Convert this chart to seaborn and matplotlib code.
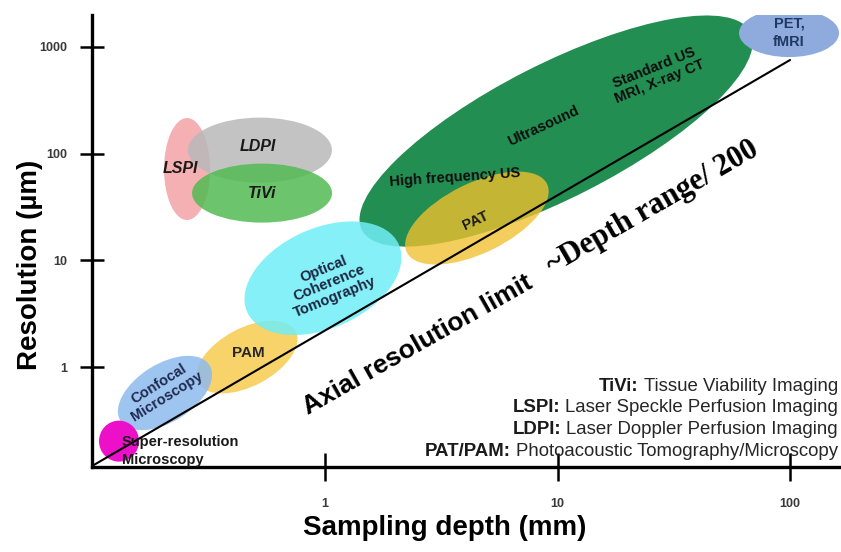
import numpy as np
import pandas as pd
import matplotlib
matplotlib.use("Agg")
import matplotlib.pyplot as plt
import seaborn as sns
from matplotlib.patches import Ellipse
from matplotlib.transforms import ScaledTranslation

# ---------------- data ----------------
modality = ["LSPI", "LDPI", "TiVi", "Ultrasound / MRI / CT", "PAT", "PAM",
            "Confocal", "OCT", "Super-resolution", "PET/fMRI"]
depth_mm = [0.255, 0.525, 0.536, 9.86, 4.5, 0.462, 0.205, 0.98, 0.130, 99.0]
resolution_um = [71.8, 108.0, 42.7, 163.0, 24.9, 1.24, 0.571, 6.8, 0.202, 1350.0]

# resolution-limit line (two end points)
limit_depth = [0.0995, 100.0]
limit_res = [0.118, 755.0]

# text labels
label_text = ["LSPI", "LDPI", "TiVi", "High frequency US", "Ultrasound",
              "Standard US\nMRI, X-ray CT", "PAT", "PAM", "Confocal\nMicroscopy",
              "Optical\nCoherence\nTomography", "Super-resolution\nMicroscopy", "PET,\nfMRI"]
label_depth = [0.240, 0.515, 0.536, 3.62, 8.66, 26.8, 4.46, 0.467, 0.201, 1.04, 0.134, 99.0]
label_res = [73.3, 118.0, 42.7, 60.4, 181.0, 545.0, 23.4, 1.35, 0.609, 6.13, 0.163, 1350.0]

x_ticks = [1, 10, 100]
y_ticks = [1, 10, 100, 1000]

legend_abbr = ["TiVi:", "LSPI:", "LDPI:", "PAT/PAM:"]
legend_desc = ["Tissue Viability Imaging", "Laser Speckle Perfusion Imaging",
               "Laser Doppler Perfusion Imaging", "Photoacoustic Tomography/Microscopy"]

# ---------------- styles ----------------
ell_w_px = [46, 144, 140, 436, 156, 110, 105, 166, 40, 100]
ell_h_px = [102, 65, 59, 134, 70, 58, 58, 100, 41, 48]
ell_ang = [0, 0, 0, 27, 26, 28, 32, 24, 0, 0]
ell_color = ["#F4A3A6", "#B9B9B9", "#52BA52", "#1C8A4C", "#F2C12E", "#F7CC50",
             "#8DBAEE", "#70EEF6", "#EC10C8", "#8FAADC"]
ell_alpha = [0.85, 0.85, 0.85, 0.97, 0.78, 0.85, 0.85, 0.85, 1.0, 1.0]

lab_rot = [0, 0, 0, 4, 25, 22, 25, 0, 32, 22, 0, 0]
lab_size = [11.5, 11.5, 11.5, 10.5, 10.5, 10.5, 10.5, 11, 10.5, 10.5, 10.5, 10.5]
lab_style = ["italic", "italic", "italic"] + ["normal"] * 9
lab_ha = ["center"] * 10 + ["left", "center"]
lab_ls = [1.1] * 10 + [1.35, 1.4]
lab_color = ["#1a1a1a", "#1a1a1a", "#1a1a1a", "#0d0d0d", "#0d0d0d", "#0d0d0d",
             "#1a1a1a", "#262626", "#1f2a50", "#1c2541", "#1a1a1a", "#1f3864"]

sns.set_theme(style="white")
plt.rcParams["font.family"] = ["Liberation Sans", "DejaVu Sans"]

fig = plt.figure(figsize=(8.41, 5.52), dpi=100)
ax = fig.add_axes([92 / 841, 85 / 552, 748 / 841, 452 / 552])
ax.set_xscale("log")
ax.set_yscale("log")
ax.set_xlim(0.0995, 164)
ax.set_ylim(0.1156, 1995)

# ellipses
for i in range(len(modality)):
    e = Ellipse((0, 0), ell_w_px[i] / 100, ell_h_px[i] / 100, angle=ell_ang[i],
                transform=fig.dpi_scale_trans + ScaledTranslation(depth_mm[i], resolution_um[i], ax.transData),
                facecolor=ell_color[i], alpha=ell_alpha[i], edgecolor="none", zorder=2 + i * 0.01)
    ax.add_patch(e)

# resolution limit line
line_df = pd.DataFrame({"depth": limit_depth, "res": limit_res})
sns.lineplot(data=line_df, x="depth", y="res", ax=ax, color="black", lw=1.5, zorder=3)

# labels
for i, t in enumerate(label_text):
    ax.text(label_depth[i], label_res[i], t, rotation=lab_rot[i], fontsize=lab_size[i],
            fontweight="bold", fontstyle=lab_style[i], ha=lab_ha[i], va="center",
            multialignment="left" if lab_ha[i] == "left" else "center",
            color=lab_color[i], rotation_mode="anchor", linespacing=lab_ls[i], zorder=5)

# big annotation
ax.text(0.845, 0.355, "Axial resolution limit", rotation=29.5, rotation_mode="anchor",
        ha="left", va="baseline", fontsize=19, fontweight="bold", color="black", zorder=5)
ax.text(9.47, 7.44, "~Depth range/ 200", rotation=30, rotation_mode="anchor",
        ha="left", va="baseline", fontsize=22, fontweight="bold", color="black",
        family=["Liberation Serif", "DejaVu Serif"], zorder=5)

# legend-like text block
leg_y = [0.179, 0.131, 0.082, 0.035]
for abbr, desc, yy in zip(legend_abbr, legend_desc, leg_y):
    t = ax.text(0.997, yy, desc, transform=ax.transAxes, ha="right", va="center",
                fontsize=13.4, color="#262626", zorder=5)
    ax.annotate(abbr, xy=(0, 0.5), xycoords=t, xytext=(-3.5, 0), textcoords="offset points",
                ha="right", va="center", fontsize=13.4, fontweight="bold", color="#1a1a1a", zorder=5)

# axes styling
for s in ["top", "right"]:
    ax.spines[s].set_visible(False)
for s in ["left", "bottom"]:
    ax.spines[s].set_linewidth(2.4)
    ax.spines[s].set_color("black")
ax.set_xticks(x_ticks)
ax.set_xticklabels([str(v) for v in x_ticks])
ax.set_yticks(y_ticks)
ax.set_yticklabels([str(v) for v in y_ticks])
ax.minorticks_off()
ax.tick_params(axis="x", which="major", bottom=True, direction="inout", length=20, width=1.8, pad=12,
               labelsize=9, labelcolor="#3a3a3a", color="black")
ax.tick_params(axis="y", which="major", left=True, direction="inout", length=17, width=1.8, pad=9,
               labelsize=9, labelcolor="#3a3a3a", color="black")
for lab in ax.get_xticklabels() + ax.get_yticklabels():
    lab.set_fontweight("bold")

ax.set_xlabel("Sampling depth (mm)", fontsize=20, fontweight="bold", color="black")
ax.set_ylabel("Resolution (\u00b5m)", fontsize=20, fontweight="bold", color="black")
ax.xaxis.set_label_coords(0.472, -0.135)
ax.xaxis.label.set_va("center")
ax.yaxis.set_label_coords(-0.083, 0.447)
ax.yaxis.label.set_va("center")

fig.savefig("out.png", dpi=100)
